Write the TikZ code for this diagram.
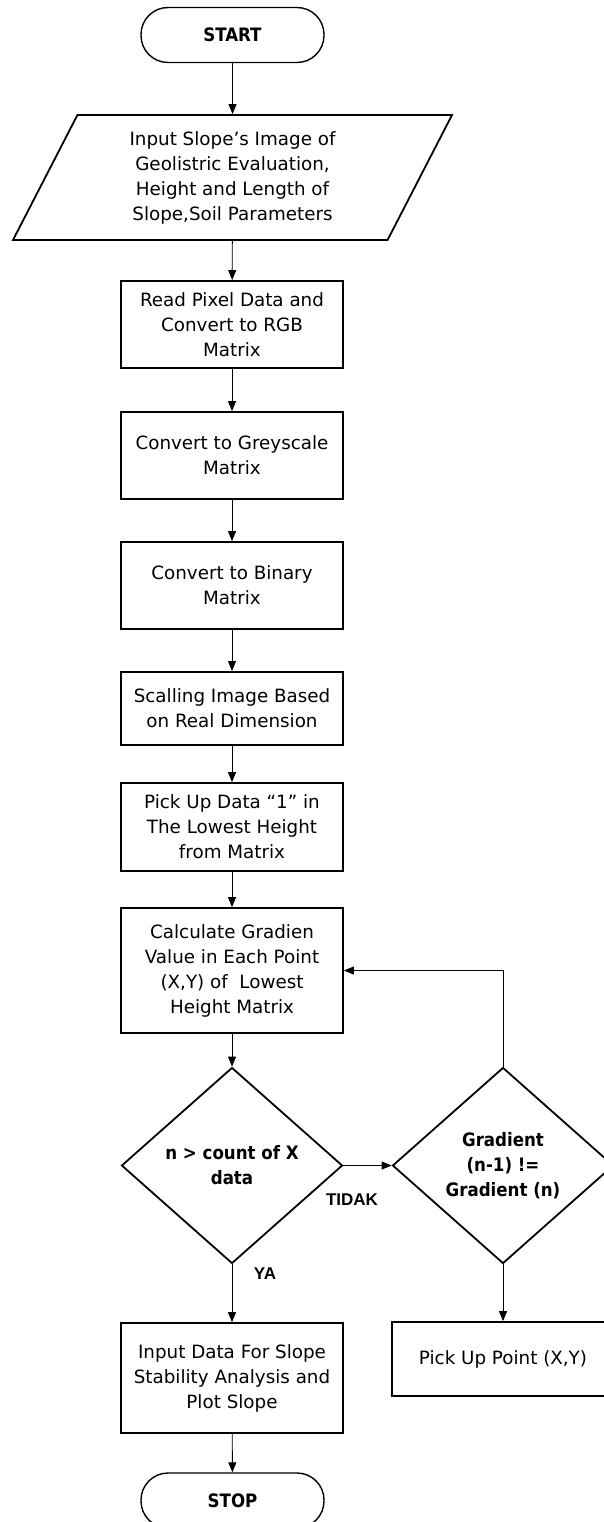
\documentclass[tikz,border=0pt]{standalone}
\usepackage{fontspec}
\setmainfont{DejaVu Sans}
\newfontfamily\condfont{DejaVu Sans Condensed}
\newfontfamily\lblfont{Liberation Sans}
\usetikzlibrary{shapes.geometric,arrows.meta}

\tikzset{
  boxtext/.style={font=\fontsize{18.3}{25}\selectfont, align=center},
  process/.style={boxtext, draw, line width=1.8pt, rectangle,
    minimum width=222pt, inner sep=0pt},
  terminal/.style={draw, line width=1.4pt, rectangle, rounded corners=27pt,
    minimum width=183pt, minimum height=55pt, inner sep=0pt,
    font=\condfont\bfseries\fontsize{18.5}{25}\selectfont},
  inout/.style={boxtext, draw, line width=1.8pt, shape=trapezium,
    trapezium left angle=55.2, trapezium right angle=124.8,
    trapezium stretches body=true, minimum width=439pt, minimum height=125pt,
    inner sep=0pt},
  decision/.style={draw, line width=1.8pt, shape=diamond, inner sep=0pt,
    minimum width=221pt, minimum height=196pt, align=center,
    font=\condfont\bfseries\fontsize{18.5}{25}\selectfont},
  flow/.style={line width=0.9pt, -{Triangle[length=10pt,width=8pt]}},
  branch/.style={font=\lblfont\bfseries\fontsize{17}{20}\selectfont, inner sep=0pt}
}

\begin{document}
\begin{tikzpicture}[x=1pt,y=-1pt]
  \useasboundingbox (0,0) rectangle (604,1522);
  \clip (0,0) rectangle (604,1522);

  % main column
  \node[terminal] (start) at (232.5,35) {START};
  \node[inout] (input) at (232.5,177.5)
    {Input Slope’s Image of\\Geolistric Evaluation,\\Height and Length of\\Slope,Soil Parameters};
  \node[process, minimum height=87pt] (read) at (232,324.5)
    {Read Pixel Data and\\Convert to RGB\\Matrix};
  \node[process, minimum height=87pt] (grey) at (232,455.5)
    {Convert to Greyscale\\Matrix};
  \node[process, minimum height=87pt] (binary) at (232,585.5)
    {Convert to Binary\\Matrix};
  \node[process, minimum height=73pt] (scale) at (232,708.5)
    {Scalling Image Based\\on Real Dimension};
  \node[process, minimum height=88pt] (pickdata) at (232,827)
    {Pick Up Data “1” in\\The Lowest Height\\from Matrix};
  \node[process, minimum height=125pt] (calc) at (232,970.5)
    {Calculate Gradien\\Value in Each Point\\(X,Y) of~ Lowest\\Height Matrix};
  \node[decision] (count) at (232,1165.5) {n > count of X\\data};
  \node[process, minimum height=110pt] (final) at (232,1378)
    {Input Data For Slope\\Stability Analysis and\\Plot Slope};
  \node[terminal] (stop) at (232.5,1500.5) {STOP};

  % gradient check branch
  \node[decision] (grad) at (503,1165.5) {Gradient\\(n-1) !=\\Gradient (n)};
  \node[process, minimum height=74pt] (pickpt) at (503,1359)
    {Pick Up Point (X,Y)};

  % connectors
  \draw[flow] (start) -- (input);
  \draw[flow] (input) -- (read);
  \draw[flow] (read) -- (grey);
  \draw[flow] (grey) -- (binary);
  \draw[flow] (binary) -- (scale);
  \draw[flow] (scale) -- (pickdata);
  \draw[flow] (pickdata) -- (calc);
  \draw[flow] (calc) -- (count);
  \draw[flow] (count.south) -- (final.north);
  \draw[flow] (final) -- (stop);
  \draw[flow] (count.east) -- (grad.west);
  \draw[flow] (grad.south) -- (pickpt.north);
  \draw[flow] (grad.north) |- (calc.east);

  % branch labels
  \node[branch] (no) at (352,1200) {TIDAK};
  \node[branch] (yes) at (265,1274) {YA};
\end{tikzpicture}
\end{document}
